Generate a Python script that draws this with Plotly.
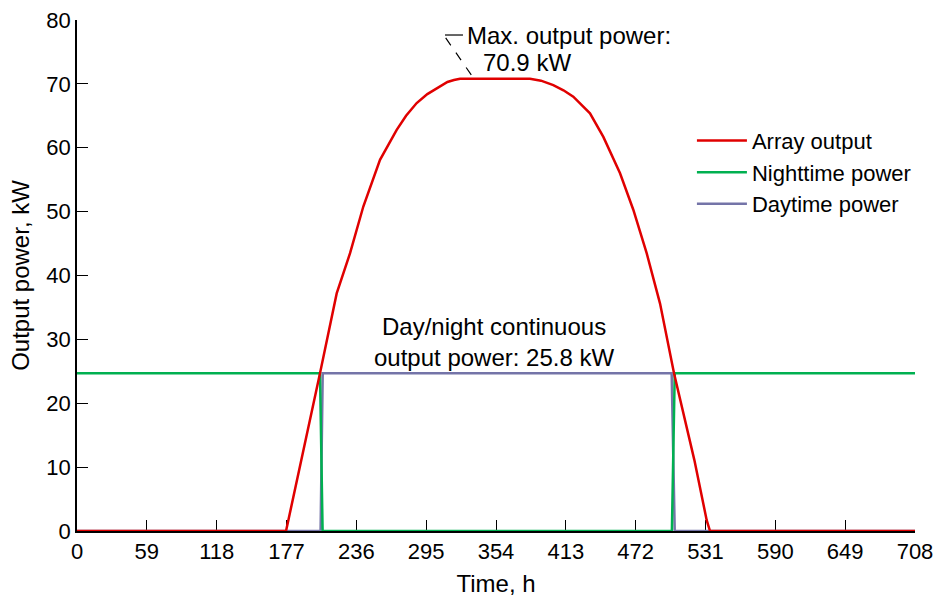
import plotly.graph_objects as go

# ---- data ----
time_array = [0, 176.6, 205.3, 219.4, 230.7, 241.9, 256.0, 270.1, 278.0, 287.0, 296.0,
              303.9, 313.0, 318.5, 323.6, 382.7, 392.0, 402.4, 411.0, 419.3, 433.4,
              444.7, 458.8, 470.0, 481.3, 492.6, 504.4, 521.6, 532.0, 534.8, 708]
array_kw = [0, 0, 24.7, 37.2, 43.5, 50.8, 58.1, 62.8, 65.0, 67.0, 68.4,
            69.3, 70.3, 70.6, 70.8, 70.8, 70.5, 69.8, 69.0, 68.0, 65.4,
            61.7, 56.0, 50.3, 43.5, 35.6, 24.7, 11.1, 1.7, 0, 0]

time_night = [0, 205.3, 207.5, 502.6, 505.0, 708]
night_kw = [24.7, 24.7, 0, 0, 24.7, 24.7]

time_day = [0, 205.8, 207.6, 502.4, 505.0, 708]
day_kw = [0, 0, 24.7, 24.7, 0, 0]

x_ticks = [0, 59, 118, 177, 236, 295, 354, 413, 472, 531, 590, 649, 708]
y_ticks = [0, 10, 20, 30, 40, 50, 60, 70, 80]

FONT = "Liberation Sans, Arial, sans-serif"

fig = go.Figure()
fig.add_trace(go.Scatter(x=time_day, y=day_kw, mode="lines", name="Daytime power",
                         line=dict(color="#7474A8", width=2.5), cliponaxis=False))
fig.add_trace(go.Scatter(x=time_night, y=night_kw, mode="lines", name="Nighttime power",
                         line=dict(color="#00B050", width=2.5), cliponaxis=False))
fig.add_trace(go.Scatter(x=time_array, y=array_kw, mode="lines", name="Array output",
                         line=dict(color="#E00000", width=2.5), cliponaxis=False))

# leader for max annotation
fig.add_shape(type="line", x0=310.9, y0=77.65, x1=326.1, y1=77.65, xref="x", yref="y",
              line=dict(color="black", width=1.2))
fig.add_shape(type="line", x0=311.5, y0=77.2, x1=334.6, y1=71.0, xref="x", yref="y",
              line=dict(color="black", width=1.2, dash="dash"))

fig.add_annotation(x=328.0, y=77.65, xref="x", yref="y", xanchor="left", yanchor="middle",
                   text="Max. output power:", showarrow=False, align="left",
                   font=dict(family=FONT, size=24, color="black"))
fig.add_annotation(x=341.0, y=73.27, xref="x", yref="y", xanchor="left", yanchor="middle",
                   text="70.9 kW", showarrow=False, align="left",
                   font=dict(family=FONT, size=24, color="black"))
fig.add_annotation(x=352, y=29.64, xref="x", yref="y", xanchor="center", yanchor="middle",
                   text="Day/night continuous<br>output power: 25.8 kW", showarrow=False,
                   align="center", font=dict(family=FONT, size=24, color="black"))

fig.update_layout(
    width=935, height=597,
    margin=dict(l=77, r=20, t=20, b=66),
    paper_bgcolor="white", plot_bgcolor="white",
    font=dict(family=FONT, size=22, color="black"),
    showlegend=True,
    legend=dict(x=0.7338, y=0.702, xanchor="left", yanchor="middle",
                traceorder="reversed", bgcolor="rgba(0,0,0,0)",
                font=dict(family=FONT, size=22, color="black"),
                itemwidth=50, tracegroupgap=0),
    xaxis=dict(range=[0, 708], tickmode="array", tickvals=x_ticks,
               ticktext=[str(v) for v in x_ticks],
               ticks="inside", ticklen=11, tickwidth=1.2, tickcolor="black",
               showline=True, linecolor="black", linewidth=1.5, mirror=False,
               showgrid=False, zeroline=False, automargin=False, layer="below traces",
               ticklabeloverflow="allow",
               tickfont=dict(family=FONT, size=22, color="black"),
               title=dict(text="Time, h", standoff=18,
                          font=dict(family=FONT, size=24, color="black"))),
    yaxis=dict(range=[0, 80], tickmode="array", tickvals=y_ticks,
               ticks="inside", ticklen=11, tickwidth=1.2, tickcolor="black",
               showline=True, linecolor="black", linewidth=1.5, mirror=False,
               showgrid=False, zeroline=False, automargin=False, layer="below traces",
               ticklabeloverflow="allow",
               tickfont=dict(family=FONT, size=22, color="black"),
               title=dict(text="Output power, kW", standoff=10,
                          font=dict(family=FONT, size=24, color="black"))),
)

# remove the default 8px page margin so the 935x597 figure fills the window exactly
fig.write_html(
    "out.html",
    config={"displayModeBar": False},
    post_script="document.body.style.margin='0';"
                "document.documentElement.style.overflow='hidden';",
)
